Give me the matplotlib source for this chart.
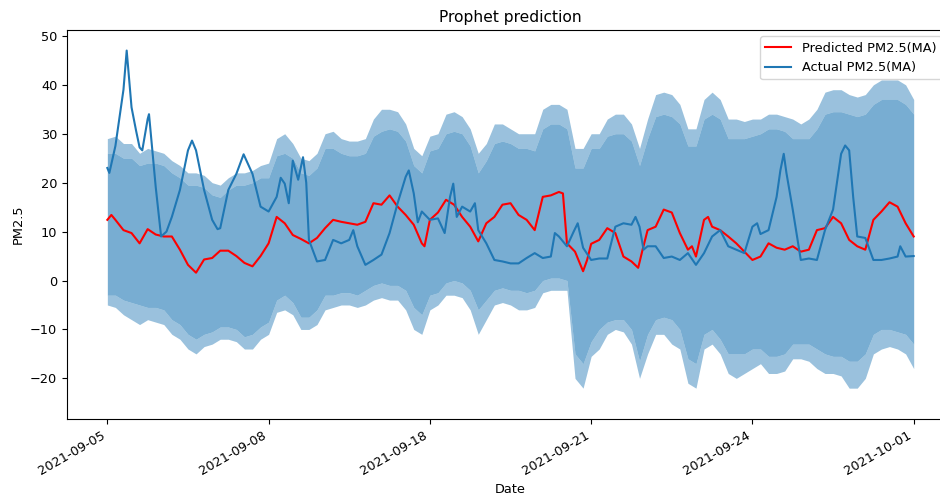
import numpy as np
import matplotlib
matplotlib.use('Agg')
import matplotlib.pyplot as plt

plt.rcParams.update({'font.family': 'DejaVu Sans', 'font.size': 9.3})

# hourly index of the forecast window and its date labels
tick_hours = [0, 120, 240, 360, 480, 600]
tick_labels = ['2021-09-05', '2021-09-08', '2021-09-18',
               '2021-09-21', '2021-09-24', '2021-10-01']

# predicted PM2.5 (moving average)
pred_hours = [0, 3, 6, 12, 18, 24, 30, 36, 42, 48, 54, 60, 66, 72, 78, 84, 90, 96,
              102, 108, 114, 120, 126, 132, 138, 144, 150, 156, 162, 168, 174, 180,
              186, 192, 198, 204, 210, 216, 222, 228, 234, 236, 240, 246, 252, 258,
              264, 270, 276, 282, 288, 294, 300, 306, 312, 318, 324, 330, 336, 339,
              342, 348, 354, 357, 360, 366, 372, 378, 384, 390, 395, 398, 402, 408,
              414, 420, 426, 432, 435, 438, 444, 447, 450, 456, 462, 468, 474, 480,
              486, 492, 498, 504, 510, 516, 522, 528, 534, 540, 546, 552, 558, 564,
              570, 576, 582, 588, 594, 600]
pred_pm = [12.4, 13.4, 12.4, 10.3, 9.7, 7.6, 10.5, 9.4, 9.0, 9.0, 6.3, 3.2, 1.6, 4.3,
           4.6, 6.1, 6.1, 5.0, 3.6, 2.9, 5.0, 7.6, 13.0, 11.7, 9.3, 8.5, 7.6, 8.7, 10.7,
           12.4, 12.0, 11.7, 11.4, 12.0, 15.8, 15.5, 17.4, 15.1, 13.4, 11.4, 7.6, 7.0,
           12.4, 13.9, 16.5, 15.5, 13.0, 11.0, 8.0, 11.7, 13.0, 15.5, 15.8, 13.4, 12.4,
           10.3, 17.1, 17.4, 18.1, 17.8, 7.6, 5.9, 1.9, 4.2, 7.5, 8.3, 10.7, 9.7, 4.9,
           3.9, 2.6, 6.0, 10.3, 11.0, 14.5, 13.9, 9.7, 6.3, 7.0, 4.9, 12.4, 13.0, 11.0,
           10.3, 9.0, 7.6, 5.9, 4.2, 4.9, 7.6, 6.7, 6.3, 7.0, 5.9, 6.3, 10.3, 10.7,
           13.0, 11.7, 8.3, 7.0, 6.3, 12.4, 14.1, 16.0, 15.1, 11.7, 9.0]

# observed PM2.5 (moving average)
act_hours = [0, 1.5, 6, 12, 14.4, 16.4, 18, 21.4, 24, 26, 30, 31, 36, 40, 44, 48, 54,
             60, 63, 66, 72, 78, 82, 84, 90, 96, 101.4, 108, 114, 120, 126, 129, 132,
             135, 138, 142, 145.6, 148, 150, 156, 162, 168, 174, 180, 183, 186, 192,
             198, 204, 210, 216, 222, 224.3, 228, 231, 234, 240, 246, 251, 255, 257.4,
             260, 264, 270, 273.5, 276, 282, 288, 294, 300, 306, 312, 318, 324, 330,
             333, 336, 342, 347, 350, 354, 360, 366, 372, 378, 384, 390, 393, 396, 399,
             402, 408, 414, 420, 426, 432, 438, 444, 450, 456, 462, 468, 474, 480,
             483.5, 486, 492, 498, 500.8, 503.3, 505.3, 510, 516, 522, 528, 534, 540,
             546, 549, 552, 555, 558, 564, 570, 576, 582, 588, 590, 594, 600]
act_pm = [23.0, 22.0, 27.5, 39.0, 47.0, 40.5, 35.4, 30.6, 27.2, 26.6, 33.0, 34.0, 19.1,
          9.0, 10.0, 13.0, 18.5, 26.6, 28.6, 26.6, 18.5, 12.4, 10.5, 10.7, 18.5, 21.8,
          25.8, 21.8, 15.1, 14.1, 17.1, 21.0, 19.8, 15.8, 24.5, 20.6, 25.2, 20.0, 8.3,
          3.9, 4.2, 8.3, 7.6, 8.3, 10.3, 7.0, 3.2, 4.2, 5.3, 9.7, 15.8, 21.2, 22.5,
          17.8, 11.9, 14.1, 12.4, 12.7, 9.7, 17.1, 19.8, 13.0, 15.1, 14.1, 15.8, 10.3,
          7.6, 4.2, 3.9, 3.5, 3.5, 4.6, 5.6, 4.6, 4.9, 9.7, 9.0, 7.0, 10.0, 11.7, 6.7,
          4.2, 4.5, 4.5, 11.0, 11.7, 11.4, 13.0, 11.0, 6.3, 7.0, 7.0, 4.6, 4.9, 4.2,
          5.6, 3.2, 5.6, 9.0, 10.3, 7.0, 6.3, 5.6, 11.0, 11.7, 9.5, 10.3, 17.1, 22.5,
          25.9, 22.0, 14.5, 4.2, 4.5, 4.2, 10.3, 14.5, 25.9, 27.6, 26.6, 17.0, 9.0,
          8.7, 4.2, 4.2, 4.5, 4.9, 7.0, 4.9, 5.0]

# uncertainty interval: solid part and the ragged outer fringe, every 6 hours
band_hours = np.arange(0, 601, 6)
upper_tip = [29, 29.5, 28, 28, 26, 27, 26.5, 26, 24.5, 23.5, 22, 22, 21.5, 20, 19.5,
             21, 22, 22, 22.5, 23.5, 24, 29, 30, 28, 25, 24.5, 26, 30, 30.5, 29, 28.5,
             28.5, 29, 33, 35, 35, 34.5, 32, 27, 25.5, 29.5, 30, 34, 34.5, 33.5, 31, 26,
             28, 32, 32, 31, 30, 30, 30, 35, 36, 36, 35, 27, 27, 30, 30, 33, 34, 34, 32,
             27, 33, 38, 38.5, 38, 36, 31, 31, 37, 38.5, 37, 33, 33, 32.5, 33, 33, 34,
             34, 33.5, 33, 32, 33, 35, 38.5, 39, 39, 38, 37.5, 38, 40, 41, 41, 41, 40, 37]
upper_core = [26, 26, 25, 25, 23.5, 24, 24, 23.5, 22, 21, 19.5, 19.5, 19, 17.5, 17,
              18.5, 19.5, 19.5, 20, 21, 21, 25.5, 26, 25, 22, 21.5, 23, 27, 27, 26,
              25.5, 25.5, 26, 29.5, 30.5, 31, 30.5, 28.5, 23.5, 22, 26.5, 27, 30, 30.5,
              30, 27.5, 22, 24.5, 28, 28.5, 28, 27, 27, 26.5, 31, 32, 32, 31, 23, 23, 27,
              27, 29.5, 30, 30, 28.5, 23.5, 29, 33.5, 34, 33.5, 32, 27.5, 27.5, 33, 34,
              33, 29, 29, 29, 29.5, 30, 31, 31, 30.5, 29, 29, 29, 31, 34, 34.5, 34.5, 34,
              33.5, 34, 36, 37, 37, 37, 36, 34]
lower_core = [-3, -3, -4, -4.5, -5, -5.5, -5.5, -6, -8, -9, -11, -12, -11, -10.5, -9.5,
              -9.5, -10, -11.5, -11, -9.5, -8.5, -4, -3, -4.5, -7.5, -7.5, -6, -3, -3,
              -2.5, -2.5, -3, -2, -1, -0.5, -1, -1, -2, -5.5, -7, -3, -2.5, -0.5, 0,
              -0.5, -2, -6, -4, -2, -1.5, -2, -2, -2.5, -2, 0, 0.5, 0.5, 0, -15, -17,
              -12.5, -10, -8.5, -8, -8, -10, -16.5, -11, -8, -7.5, -8, -10, -16, -17,
              -11, -10, -12, -15, -15, -15, -14, -14, -15.5, -15.5, -15, -13, -13, -13,
              -14, -15, -15.5, -15.5, -16.5, -16.5, -15, -11, -10, -10, -10.5, -11, -13]
lower_tip = [-5, -5.5, -7, -8, -9, -8, -8.5, -9, -11, -12, -14, -15, -13.5, -13, -12,
             -12, -12.5, -14, -14, -12, -11, -6.5, -6, -7, -10, -10, -9, -6, -5.5, -5,
             -5, -5.5, -5, -4, -3.5, -4, -4, -6, -10, -11, -6, -5, -3, -3, -3.5, -6,
             -11, -8, -5, -4.5, -5, -6, -6, -5.5, -2.5, -2, -2, -2, -20, -22, -15.5,
             -14, -11, -10, -10.5, -13, -20, -15, -11, -11, -13, -14, -21, -22, -14,
             -13, -15, -19, -20, -19, -18, -17, -19, -19, -18.5, -16, -16, -16.5, -18,
             -19, -19, -19.5, -22, -22, -20, -15, -14, -13.5, -14, -15, -18]

fig = plt.figure(figsize=(9.4, 5.01), dpi=100)
# axes run slightly past the right edge of the saved image
ax = fig.add_axes([0.0713, 0.1637, 0.9436, 0.7764])

band_color = 'C0'
ax.fill_between(band_hours, lower_core, upper_core, color=band_color, alpha=0.6, lw=0)
ax.fill_between(band_hours, upper_core, upper_tip, color=band_color, alpha=0.45, lw=0)
ax.fill_between(band_hours, lower_tip, lower_core, color=band_color, alpha=0.45, lw=0)

ax.plot(pred_hours, pred_pm, color='red', lw=1.5, label='Predicted PM2.5(MA)')
ax.plot(act_hours, act_pm, color='C0', lw=1.5, label='Actual PM2.5(MA)')

ax.set_xlim(-30, 630)
ax.set_ylim(-28.3, 51.2)
ax.set_xticks(tick_hours)
ax.set_xticklabels(tick_labels, rotation=30, ha='right')
ax.set_yticks([-20, -10, 0, 10, 20, 30, 40, 50])

ax.set_title('Prophet prediction')
ax.set_xlabel('Date')
ax.set_ylabel('PM2.5')
ax.legend(loc='upper right', bbox_to_anchor=(0.993, 1.0))

fig.savefig('out.png', dpi=100)
